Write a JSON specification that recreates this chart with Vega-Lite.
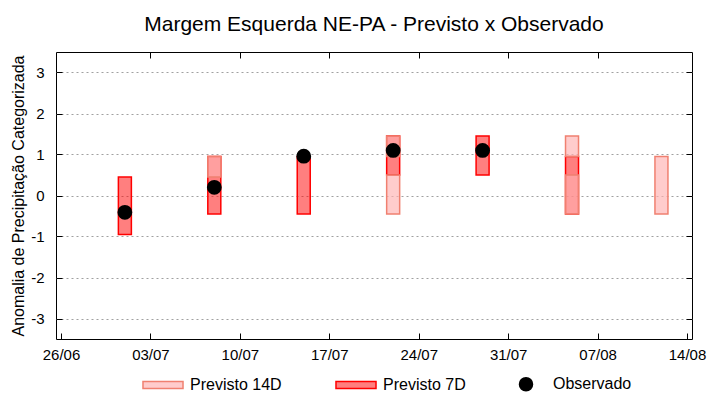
{
  "$schema": "https://vega.github.io/schema/vega-lite/v6.json",
  "width": 636,
  "height": 287,
  "autosize": "none",
  "padding": {"left": 56, "top": 52, "right": 28, "bottom": 61},
  "background": "white",
  "config": {
    "font": "Liberation Sans",
    "view": {"stroke": "black", "strokeWidth": 1},
    "axis": {"labelFont": "Liberation Sans", "labelFontSize": 15, "labelColor": "#000000", "titleFont": "Liberation Sans", "titleColor": "#000000", "domain": false, "tickColor": "#000000", "tickWidth": 1}
  },
  "title": {"text": "Margem Esquerda NE-PA - Previsto x Observado", "font": "Liberation Sans", "fontSize": 21, "fontWeight": "normal", "color": "#000000", "offset": 17, "anchor": "middle"},
  "datasets": {
    "prev": [
      {"serie": "Previsto 7D", "data": "2025-07-01", "lo": -0.95, "hi": 0.45},
      {"serie": "Previsto 7D", "data": "2025-07-08", "lo": -0.45, "hi": 0.95},
      {"serie": "Previsto 7D", "data": "2025-07-15", "lo": -0.45, "hi": 0.95},
      {"serie": "Previsto 7D", "data": "2025-07-22", "lo": 0.5, "hi": 1.45},
      {"serie": "Previsto 7D", "data": "2025-07-29", "lo": 0.5, "hi": 1.45},
      {"serie": "Previsto 7D", "data": "2025-08-05", "lo": -0.45, "hi": 0.95},
      {"serie": "Previsto 14D", "data": "2025-07-08", "lo": 0.45, "hi": 0.95},
      {"serie": "Previsto 14D", "data": "2025-07-22", "lo": -0.45, "hi": 0.5},
      {"serie": "Previsto 14D", "data": "2025-07-22", "lo": 0.95, "hi": 1.45},
      {"serie": "Previsto 14D", "data": "2025-08-05", "lo": -0.45, "hi": 0.5},
      {"serie": "Previsto 14D", "data": "2025-08-05", "lo": 0.95, "hi": 1.45},
      {"serie": "Previsto 14D", "data": "2025-08-12", "lo": -0.45, "hi": 0.95}
    ],
    "obs": [
      {"serie": "Observado", "data": "2025-07-01", "v": -0.41},
      {"serie": "Observado", "data": "2025-07-08", "v": 0.2},
      {"serie": "Observado", "data": "2025-07-15", "v": 0.96},
      {"serie": "Observado", "data": "2025-07-22", "v": 1.1},
      {"serie": "Observado", "data": "2025-07-29", "v": 1.1}
    ]
  },
  "resolve": {"axis": {"x": "independent", "y": "independent"}},
  "layer": [
    {
      "data": {"name": "prev"},
      "transform": [{"filter": "datum.serie === 'Previsto 7D'"}],
      "mark": {"type": "bar", "width": 13, "strokeWidth": 1.5},
      "encoding": {
        "x": {
          "field": "data", "type": "temporal",
          "scale": {"type": "utc", "domain": [{"year": 2025, "month": "jun", "date": 26, "utc": true}, {"year": 2025, "month": "aug", "date": 14, "utc": true}]},
          "axis": {
            "title": null, "grid": false, "ticks": true, "tickSize": -6, "format": "%d/%m", "labelPadding": 14,
            "values": [
              {"year": 2025, "month": "jun", "date": 26, "utc": true},
              {"year": 2025, "month": "jul", "date": 3, "utc": true},
              {"year": 2025, "month": "jul", "date": 10, "utc": true},
              {"year": 2025, "month": "jul", "date": 17, "utc": true},
              {"year": 2025, "month": "jul", "date": 24, "utc": true},
              {"year": 2025, "month": "jul", "date": 31, "utc": true},
              {"year": 2025, "month": "aug", "date": 7, "utc": true},
              {"year": 2025, "month": "aug", "date": 14, "utc": true}
            ],
            "labelOverlap": false, "labelFlush": false
          }
        },
        "y": {"field": "lo", "type": "quantitative", "scale": {"domain": [-3.5, 3.5], "nice": false},
          "axis": {"title": "Anomalia de Precipitação Categorizada", "titleFontSize": 16, "titleFontWeight": "normal", "titlePadding": 4,
            "values": [-3, -2, -1, 0, 1, 2, 3], "labelExpr": "'' + datum.value", "ticks": true, "tickSize": -6, "labelPadding": 18,
            "grid": true, "gridColor": "#a0a0a0", "gridDash": [2, 3], "gridWidth": 1}},
        "y2": {"field": "hi"},
        "fill": {"field": "serie", "type": "nominal", "scale": {"domain": ["Previsto 14D", "Previsto 7D", "Observado"], "range": ["rgba(255,176,176,0.65)", "rgba(255,0,0,0.5)", "#000000"]},
          "legend": {"title": null, "orient": "none", "legendX": 99, "legendY": 324, "direction": "horizontal", "labelFontSize": 16, "labelFont": "Liberation Sans", "labelColor": "#000000", "symbolSize": 170, "symbolStrokeWidth": 1.5, "columnPadding": 50, "labelOffset": 19}},
        "stroke": {"field": "serie", "type": "nominal", "scale": {"domain": ["Previsto 14D", "Previsto 7D", "Observado"], "range": ["#f08070", "#ff0000", "#000000"]}}
      }
    },
    {
      "data": {"name": "prev"},
      "transform": [{"filter": "datum.serie === 'Previsto 14D'"}],
      "mark": {"type": "bar", "width": 13, "strokeWidth": 1.5},
      "encoding": {
        "x": {
          "field": "data", "type": "temporal",
          "axis": {
            "orient": "top", "title": null, "grid": false, "labels": false, "ticks": true, "tickSize": -6,
            "values": [
              {"year": 2025, "month": "jul", "date": 3, "utc": true},
              {"year": 2025, "month": "jul", "date": 10, "utc": true},
              {"year": 2025, "month": "jul", "date": 17, "utc": true},
              {"year": 2025, "month": "jul", "date": 24, "utc": true},
              {"year": 2025, "month": "jul", "date": 31, "utc": true},
              {"year": 2025, "month": "aug", "date": 7, "utc": true}
            ]
          }
        },
        "y": {"field": "lo", "type": "quantitative",
          "axis": {"orient": "right", "title": null, "grid": false, "labels": false, "ticks": true, "tickSize": -6, "values": [-3, -2, -1, 0, 1, 2, 3]}},
        "y2": {"field": "hi"},
        "fill": {"field": "serie", "type": "nominal"},
        "stroke": {"field": "serie", "type": "nominal"}
      }
    },
    {
      "data": {"name": "obs"},
      "mark": {"type": "point", "filled": true, "size": 165, "opacity": 1},
      "encoding": {
        "x": {"field": "data", "type": "temporal", "axis": null},
        "y": {"field": "v", "type": "quantitative", "axis": null},
        "fill": {"field": "serie", "type": "nominal"},
        "stroke": {"field": "serie", "type": "nominal"},
        "shape": {"field": "serie", "type": "nominal", "scale": {"domain": ["Previsto 14D", "Previsto 7D", "Observado"], "range": ["M-3.07,-0.54H3.07V0.54H-3.07Z", "M-3.07,-0.54H3.07V0.54H-3.07Z", "circle"]}}
      }
    }
  ]
}
